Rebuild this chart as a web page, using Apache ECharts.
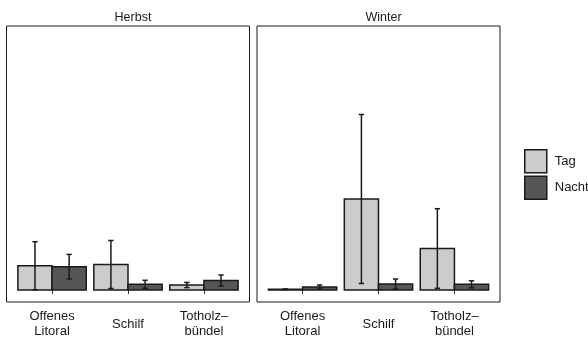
<!DOCTYPE html>
<html>
<head>
<meta charset="utf-8">
<script src="https://cdn.jsdelivr.net/npm/echarts@6/dist/echarts.min.js"></script>
<style>html,body{margin:0;padding:0;background:#fff;}#c{width:588px;height:339px;}</style>
</head>
<body>
<div id="c"></div>
<script>
// Data
const categories = ['Offenes\nLitoral', 'Schilf', 'Totholz\u2013\nbündel'];
const seasons = ['Herbst', 'Winter'];
const groups = ['Tag', 'Nacht'];
const herbstTagMean = [2.43, 2.55, 0.50];
const herbstTagSE = [2.40, 2.40, 0.26];
const herbstNachtMean = [2.33, 0.57, 0.95];
const herbstNachtSE = [1.23, 0.40, 0.55];
const winterTagMean = [0.07, 9.10, 4.15];
const winterTagSE = [0.03, 8.45, 3.98];
const winterNachtMean = [0.30, 0.60, 0.57];
const winterNachtSE = [0.20, 0.50, 0.35];

const colors = {Tag: '#cccccc', Nacht: '#565656'};
const edge = '#1a1a1a';
const barW = 0.45;
const capHalf = 0.035;

function mkData(means, ses) {
  return means.map((m, i) => [i + 1, m, ses[i]]);
}

function mkRender(offset) {
  return function (params, api) {
    const x = api.value(0), m = api.value(1), se = api.value(2);
    const x0 = x + offset, x1 = x0 + barW, xc = x0 + barW / 2;
    const p0 = api.coord([x0, m]);
    const p1 = api.coord([x1, 0]);
    const lo = api.coord([xc, Math.max(0, m - se)]);
    const hi = api.coord([xc, m + se]);
    const cl = api.coord([xc - capHalf, 0])[0];
    const cr = api.coord([xc + capHalf, 0])[0];
    const ls = {stroke: edge, lineWidth: 1.5};
    return {
      type: 'group',
      children: [
        {type: 'rect', shape: {x: p0[0], y: p0[1], width: p1[0] - p0[0], height: p1[1] - p0[1]},
         style: {fill: api.visual('color'), stroke: edge, lineWidth: 1.5}},
        {type: 'line', shape: {x1: lo[0], y1: lo[1], x2: hi[0], y2: hi[1]}, style: ls},
        {type: 'line', shape: {x1: cl, y1: lo[1], x2: cr, y2: lo[1]}, style: ls},
        {type: 'line', shape: {x1: cl, y1: hi[1], x2: cr, y2: hi[1]}, style: ls}
      ]
    };
  };
}

const gridTop = 26, gridH = 276, gridW = 243;
const grids = [
  {left: 6.5, top: gridTop, width: gridW, height: gridH, show: true, borderColor: edge, borderWidth: 1, backgroundColor: '#fff'},
  {left: 257, top: gridTop, width: gridW, height: gridH, show: true, borderColor: edge, borderWidth: 1, backgroundColor: '#fff'}
];

function xAxisFor(i) {
  return {
    type: 'value', gridIndex: i, min: 0.4, max: 3.6,
    axisLine: {show: false},
    splitLine: {show: false},
    axisTick: {show: true, customValues: [1, 2, 3], length: 4, inside: false, lineStyle: {color: '#333', width: 1}},
    axisLabel: {
      customValues: [1, 2, 3],
      formatter: v => categories[Math.round(v) - 1] || '',
      color: '#1a1a1a', fontSize: 13, lineHeight: 15, margin: 22,
      verticalAlign: 'middle', align: 'center',
      fontFamily: 'Liberation Sans, Arial, sans-serif'
    }
  };
}
function yAxisFor(i) {
  return {type: 'value', gridIndex: i, min: -1.2, max: 26.4, show: false, splitLine: {show: false}};
}

const series = [
  {name: 'Tag', type: 'custom', xAxisIndex: 0, yAxisIndex: 0, itemStyle: {color: colors.Tag}, renderItem: mkRender(-barW), data: mkData(herbstTagMean, herbstTagSE)},
  {name: 'Nacht', type: 'custom', xAxisIndex: 0, yAxisIndex: 0, itemStyle: {color: colors.Nacht}, renderItem: mkRender(0), data: mkData(herbstNachtMean, herbstNachtSE)},
  {name: 'Tag', type: 'custom', xAxisIndex: 1, yAxisIndex: 1, itemStyle: {color: colors.Tag}, renderItem: mkRender(-barW), data: mkData(winterTagMean, winterTagSE)},
  {name: 'Nacht', type: 'custom', xAxisIndex: 1, yAxisIndex: 1, itemStyle: {color: colors.Nacht}, renderItem: mkRender(0), data: mkData(winterNachtMean, winterNachtSE)}
];

const chart = echarts.init(document.getElementById('c'), null, {renderer: 'canvas'});
chart.setOption({
  animation: false,
  backgroundColor: '#fff',
  title: seasons.map((s, i) => ({
    text: s,
    left: grids[i].left + gridW / 2, top: 6, textAlign: 'center',
    textStyle: {fontSize: 12.5, fontWeight: 'normal', color: '#1a1a1a', fontFamily: 'Liberation Sans, Arial, sans-serif'}
  })),
  grid: grids,
  xAxis: [xAxisFor(0), xAxisFor(1)],
  yAxis: [yAxisFor(0), yAxisFor(1)],
  legend: {
    orient: 'vertical', left: 524, top: 149, padding: 0,
    itemWidth: 22, itemHeight: 23, itemGap: 2, icon: 'rect',
    selectedMode: false,
    textStyle: {fontSize: 13, color: '#1a1a1a', fontFamily: 'Liberation Sans, Arial, sans-serif', padding: [0, 0, 0, 3]},
    data: groups.map(g => ({name: g, itemStyle: {color: colors[g], borderColor: edge, borderWidth: 1.5}}))
  },
  series: series
});
</script>
</body>
</html>
